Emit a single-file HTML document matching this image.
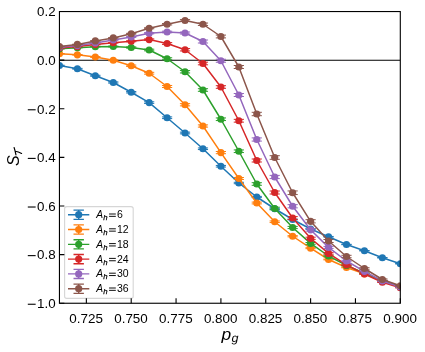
<!DOCTYPE html>
<html><head><meta charset="utf-8"><title>plot</title>
<style>html,body{margin:0;padding:0;background:#fff}svg{display:block;will-change:transform}text{font-family:"Liberation Sans",sans-serif;fill:#000}</style></head>
<body>
<svg width="425" height="352" viewBox="0 0 425 352">
<rect width="425" height="352" fill="#fff"/>
<defs><clipPath id="c"><rect x="59.45" y="11.55" width="340.85" height="291.70"/></clipPath></defs>
<g clip-path="url(#c)">
<line x1="59.45" y1="60.25" x2="400.30" y2="60.25" stroke="#000" stroke-width="1.1"/>
<g stroke="#1f77b4" fill="#1f77b4"><polyline points="59.45,65.50 77.39,68.75 95.33,75.75 113.27,82.50 131.21,92.25 149.15,102.60 167.09,117.75 185.03,133.00 202.97,148.75 220.91,166.25 238.84,183.00 256.78,197.00 274.72,208.75 292.66,219.50 310.60,229.00 328.54,236.75 346.48,244.50 364.42,250.75 382.36,257.75 400.30,263.75" fill="none" stroke-width="1.50" stroke-linejoin="round"/><path d="M59.45 65.20V65.80M54.35 65.20H64.55M54.35 65.80H64.55M77.39 68.35V69.15M72.29 68.35H82.49M72.29 69.15H82.49M95.33 75.25V76.25M90.23 75.25H100.43M90.23 76.25H100.43M113.27 81.90V83.10M108.17 81.90H118.37M108.17 83.10H118.37M131.21 91.55V92.95M126.11 91.55H136.31M126.11 92.95H136.31M149.15 101.80V103.40M144.05 101.80H154.25M144.05 103.40H154.25M167.09 116.90V118.60M161.99 116.90H172.19M161.99 118.60H172.19M185.03 132.15V133.85M179.93 132.15H190.13M179.93 133.85H190.13M202.97 147.95V149.55M197.87 147.95H208.07M197.87 149.55H208.07M220.91 165.45V167.05M215.81 165.45H226.01M215.81 167.05H226.01M238.84 182.30V183.70M233.74 182.30H243.94M233.74 183.70H243.94M256.78 196.40V197.60M251.68 196.40H261.88M251.68 197.60H261.88M274.72 208.25V209.25M269.62 208.25H279.82M269.62 209.25H279.82M292.66 219.10V219.90M287.56 219.10H297.76M287.56 219.90H297.76M310.60 228.70V229.30M305.50 228.70H315.70M305.50 229.30H315.70M328.54 236.45V237.05M323.44 236.45H333.64M323.44 237.05H333.64M346.48 244.30V244.70M341.38 244.30H351.58M341.38 244.70H351.58M364.42 250.55V250.95M359.32 250.55H369.52M359.32 250.95H369.52M382.36 257.55V257.95M377.26 257.55H387.46M377.26 257.95H387.46M400.30 263.55V263.95M395.20 263.55H405.40M395.20 263.95H405.40" fill="none" stroke-width="1.00"/><circle cx="59.45" cy="65.50" r="3.60" stroke="none"/><circle cx="77.39" cy="68.75" r="3.60" stroke="none"/><circle cx="95.33" cy="75.75" r="3.60" stroke="none"/><circle cx="113.27" cy="82.50" r="3.60" stroke="none"/><circle cx="131.21" cy="92.25" r="3.60" stroke="none"/><circle cx="149.15" cy="102.60" r="3.60" stroke="none"/><circle cx="167.09" cy="117.75" r="3.60" stroke="none"/><circle cx="185.03" cy="133.00" r="3.60" stroke="none"/><circle cx="202.97" cy="148.75" r="3.60" stroke="none"/><circle cx="220.91" cy="166.25" r="3.60" stroke="none"/><circle cx="238.84" cy="183.00" r="3.60" stroke="none"/><circle cx="256.78" cy="197.00" r="3.60" stroke="none"/><circle cx="274.72" cy="208.75" r="3.60" stroke="none"/><circle cx="292.66" cy="219.50" r="3.60" stroke="none"/><circle cx="310.60" cy="229.00" r="3.60" stroke="none"/><circle cx="328.54" cy="236.75" r="3.60" stroke="none"/><circle cx="346.48" cy="244.50" r="3.60" stroke="none"/><circle cx="364.42" cy="250.75" r="3.60" stroke="none"/><circle cx="382.36" cy="257.75" r="3.60" stroke="none"/><circle cx="400.30" cy="263.75" r="3.60" stroke="none"/></g>
<g stroke="#ff7f0e" fill="#ff7f0e"><polyline points="59.45,53.70 77.39,54.80 95.33,57.00 113.27,60.25 131.21,65.75 149.15,73.25 167.09,86.50 185.03,104.75 202.97,126.00 220.91,152.60 238.84,178.50 256.78,203.00 274.72,221.75 292.66,236.25 310.60,248.20 328.54,259.50 346.48,267.50 364.42,273.80 382.36,280.80 400.30,286.50" fill="none" stroke-width="1.50" stroke-linejoin="round"/><path d="M59.45 53.50V53.90M54.35 53.50H64.55M54.35 53.90H64.55M77.39 54.50V55.10M72.29 54.50H82.49M72.29 55.10H82.49M95.33 56.60V57.40M90.23 56.60H100.43M90.23 57.40H100.43M113.27 59.75V60.75M108.17 59.75H118.37M108.17 60.75H118.37M131.21 65.05V66.45M126.11 65.05H136.31M126.11 66.45H136.31M149.15 72.35V74.15M144.05 72.35H154.25M144.05 74.15H154.25M167.09 85.50V87.50M161.99 85.50H172.19M161.99 87.50H172.19M185.03 103.65V105.85M179.93 103.65H190.13M179.93 105.85H190.13M202.97 124.90V127.10M197.87 124.90H208.07M197.87 127.10H208.07M220.91 151.50V153.70M215.81 151.50H226.01M215.81 153.70H226.01M238.84 177.50V179.50M233.74 177.50H243.94M233.74 179.50H243.94M256.78 202.10V203.90M251.68 202.10H261.88M251.68 203.90H261.88M274.72 220.95V222.55M269.62 220.95H279.82M269.62 222.55H279.82M292.66 235.65V236.85M287.56 235.65H297.76M287.56 236.85H297.76M310.60 247.70V248.70M305.50 247.70H315.70M305.50 248.70H315.70M328.54 259.10V259.90M323.44 259.10H333.64M323.44 259.90H333.64M346.48 267.20V267.80M341.38 267.20H351.58M341.38 267.80H351.58M364.42 273.60V274.00M359.32 273.60H369.52M359.32 274.00H369.52M382.36 280.60V281.00M377.26 280.60H387.46M377.26 281.00H387.46M400.30 286.30V286.70M395.20 286.30H405.40M395.20 286.70H405.40" fill="none" stroke-width="1.00"/><circle cx="59.45" cy="53.70" r="3.60" stroke="none"/><circle cx="77.39" cy="54.80" r="3.60" stroke="none"/><circle cx="95.33" cy="57.00" r="3.60" stroke="none"/><circle cx="113.27" cy="60.25" r="3.60" stroke="none"/><circle cx="131.21" cy="65.75" r="3.60" stroke="none"/><circle cx="149.15" cy="73.25" r="3.60" stroke="none"/><circle cx="167.09" cy="86.50" r="3.60" stroke="none"/><circle cx="185.03" cy="104.75" r="3.60" stroke="none"/><circle cx="202.97" cy="126.00" r="3.60" stroke="none"/><circle cx="220.91" cy="152.60" r="3.60" stroke="none"/><circle cx="238.84" cy="178.50" r="3.60" stroke="none"/><circle cx="256.78" cy="203.00" r="3.60" stroke="none"/><circle cx="274.72" cy="221.75" r="3.60" stroke="none"/><circle cx="292.66" cy="236.25" r="3.60" stroke="none"/><circle cx="310.60" cy="248.20" r="3.60" stroke="none"/><circle cx="328.54" cy="259.50" r="3.60" stroke="none"/><circle cx="346.48" cy="267.50" r="3.60" stroke="none"/><circle cx="364.42" cy="273.80" r="3.60" stroke="none"/><circle cx="382.36" cy="280.80" r="3.60" stroke="none"/><circle cx="400.30" cy="286.50" r="3.60" stroke="none"/></g>
<g stroke="#2ca02c" fill="#2ca02c"><polyline points="59.45,48.80 77.39,47.70 95.33,46.70 113.27,46.50 131.21,47.50 149.15,50.00 167.09,58.75 185.03,71.75 202.97,90.00 220.91,119.25 238.84,151.25 256.78,184.00 274.72,208.50 292.66,227.50 310.60,243.40 328.54,256.00 346.48,265.40 364.42,273.20 382.36,281.00 400.30,286.75" fill="none" stroke-width="1.50" stroke-linejoin="round"/><path d="M59.45 48.60V49.00M54.35 48.60H64.55M54.35 49.00H64.55M77.39 47.50V47.90M72.29 47.50H82.49M72.29 47.90H82.49M95.33 46.40V47.00M90.23 46.40H100.43M90.23 47.00H100.43M113.27 46.10V46.90M108.17 46.10H118.37M108.17 46.90H118.37M131.21 46.90V48.10M126.11 46.90H136.31M126.11 48.10H136.31M149.15 49.20V50.80M144.05 49.20H154.25M144.05 50.80H154.25M167.09 57.75V59.75M161.99 57.75H172.19M161.99 59.75H172.19M185.03 70.55V72.95M179.93 70.55H190.13M179.93 72.95H190.13M202.97 88.70V91.30M197.87 88.70H208.07M197.87 91.30H208.07M220.91 117.95V120.55M215.81 117.95H226.01M215.81 120.55H226.01M238.84 149.95V152.55M233.74 149.95H243.94M233.74 152.55H243.94M256.78 182.70V185.30M251.68 182.70H261.88M251.68 185.30H261.88M274.72 207.20V209.80M269.62 207.20H279.82M269.62 209.80H279.82M292.66 226.40V228.60M287.56 226.40H297.76M287.56 228.60H297.76M310.60 242.50V244.30M305.50 242.50H315.70M305.50 244.30H315.70M328.54 255.30V256.70M323.44 255.30H333.64M323.44 256.70H333.64M346.48 264.90V265.90M341.38 264.90H351.58M341.38 265.90H351.58M364.42 272.80V273.60M359.32 272.80H369.52M359.32 273.60H369.52M382.36 280.70V281.30M377.26 280.70H387.46M377.26 281.30H387.46M400.30 286.55V286.95M395.20 286.55H405.40M395.20 286.95H405.40" fill="none" stroke-width="1.00"/><circle cx="59.45" cy="48.80" r="3.60" stroke="none"/><circle cx="77.39" cy="47.70" r="3.60" stroke="none"/><circle cx="95.33" cy="46.70" r="3.60" stroke="none"/><circle cx="113.27" cy="46.50" r="3.60" stroke="none"/><circle cx="131.21" cy="47.50" r="3.60" stroke="none"/><circle cx="149.15" cy="50.00" r="3.60" stroke="none"/><circle cx="167.09" cy="58.75" r="3.60" stroke="none"/><circle cx="185.03" cy="71.75" r="3.60" stroke="none"/><circle cx="202.97" cy="90.00" r="3.60" stroke="none"/><circle cx="220.91" cy="119.25" r="3.60" stroke="none"/><circle cx="238.84" cy="151.25" r="3.60" stroke="none"/><circle cx="256.78" cy="184.00" r="3.60" stroke="none"/><circle cx="274.72" cy="208.50" r="3.60" stroke="none"/><circle cx="292.66" cy="227.50" r="3.60" stroke="none"/><circle cx="310.60" cy="243.40" r="3.60" stroke="none"/><circle cx="328.54" cy="256.00" r="3.60" stroke="none"/><circle cx="346.48" cy="265.40" r="3.60" stroke="none"/><circle cx="364.42" cy="273.20" r="3.60" stroke="none"/><circle cx="382.36" cy="281.00" r="3.60" stroke="none"/><circle cx="400.30" cy="286.75" r="3.60" stroke="none"/></g>
<g stroke="#d62728" fill="#d62728"><polyline points="59.45,48.00 77.39,46.60 95.33,44.50 113.27,42.75 131.21,41.25 149.15,39.60 167.09,43.50 185.03,49.75 202.97,63.50 220.91,87.00 238.84,120.75 256.78,160.50 274.72,192.50 292.66,218.00 310.60,238.30 328.54,253.40 346.48,264.80 364.42,274.00 382.36,282.20 400.30,287.70" fill="none" stroke-width="1.50" stroke-linejoin="round"/><path d="M59.45 47.80V48.20M54.35 47.80H64.55M54.35 48.20H64.55M77.39 46.40V46.80M72.29 46.40H82.49M72.29 46.80H82.49M95.33 44.20V44.80M90.23 44.20H100.43M90.23 44.80H100.43M113.27 42.45V43.05M108.17 42.45H118.37M108.17 43.05H118.37M131.21 40.75V41.75M126.11 40.75H136.31M126.11 41.75H136.31M149.15 38.90V40.30M144.05 38.90H154.25M144.05 40.30H154.25M167.09 42.60V44.40M161.99 42.60H172.19M161.99 44.40H172.19M185.03 48.55V50.95M179.93 48.55H190.13M179.93 50.95H190.13M202.97 62.20V64.80M197.87 62.20H208.07M197.87 64.80H208.07M220.91 85.70V88.30M215.81 85.70H226.01M215.81 88.30H226.01M238.84 119.35V122.15M233.74 119.35H243.94M233.74 122.15H243.94M256.78 159.00V162.00M251.68 159.00H261.88M251.68 162.00H261.88M274.72 191.00V194.00M269.62 191.00H279.82M269.62 194.00H279.82M292.66 216.60V219.40M287.56 216.60H297.76M287.56 219.40H297.76M310.60 237.20V239.40M305.50 237.20H315.70M305.50 239.40H315.70M328.54 252.60V254.20M323.44 252.60H333.64M323.44 254.20H333.64M346.48 264.20V265.40M341.38 264.20H351.58M341.38 265.40H351.58M364.42 273.60V274.40M359.32 273.60H369.52M359.32 274.40H369.52M382.36 281.90V282.50M377.26 281.90H387.46M377.26 282.50H387.46M400.30 287.50V287.90M395.20 287.50H405.40M395.20 287.90H405.40" fill="none" stroke-width="1.00"/><circle cx="59.45" cy="48.00" r="3.60" stroke="none"/><circle cx="77.39" cy="46.60" r="3.60" stroke="none"/><circle cx="95.33" cy="44.50" r="3.60" stroke="none"/><circle cx="113.27" cy="42.75" r="3.60" stroke="none"/><circle cx="131.21" cy="41.25" r="3.60" stroke="none"/><circle cx="149.15" cy="39.60" r="3.60" stroke="none"/><circle cx="167.09" cy="43.50" r="3.60" stroke="none"/><circle cx="185.03" cy="49.75" r="3.60" stroke="none"/><circle cx="202.97" cy="63.50" r="3.60" stroke="none"/><circle cx="220.91" cy="87.00" r="3.60" stroke="none"/><circle cx="238.84" cy="120.75" r="3.60" stroke="none"/><circle cx="256.78" cy="160.50" r="3.60" stroke="none"/><circle cx="274.72" cy="192.50" r="3.60" stroke="none"/><circle cx="292.66" cy="218.00" r="3.60" stroke="none"/><circle cx="310.60" cy="238.30" r="3.60" stroke="none"/><circle cx="328.54" cy="253.40" r="3.60" stroke="none"/><circle cx="346.48" cy="264.80" r="3.60" stroke="none"/><circle cx="364.42" cy="274.00" r="3.60" stroke="none"/><circle cx="382.36" cy="282.20" r="3.60" stroke="none"/><circle cx="400.30" cy="287.70" r="3.60" stroke="none"/></g>
<g stroke="#9467bd" fill="#9467bd"><polyline points="59.45,47.20 77.39,45.60 95.33,42.90 113.27,40.00 131.21,37.00 149.15,33.25 167.09,32.00 185.03,33.00 202.97,41.50 220.91,60.75 238.84,95.00 256.78,139.50 274.72,177.00 292.66,206.25 310.60,229.80 328.54,247.40 346.48,261.00 364.42,271.30 382.36,281.00 400.30,287.00" fill="none" stroke-width="1.50" stroke-linejoin="round"/><path d="M59.45 47.00V47.40M54.35 47.00H64.55M54.35 47.40H64.55M77.39 45.40V45.80M72.29 45.40H82.49M72.29 45.80H82.49M95.33 42.60V43.20M90.23 42.60H100.43M90.23 43.20H100.43M113.27 39.70V40.30M108.17 39.70H118.37M108.17 40.30H118.37M131.21 36.60V37.40M126.11 36.60H136.31M126.11 37.40H136.31M149.15 32.65V33.85M144.05 32.65H154.25M144.05 33.85H154.25M167.09 31.20V32.80M161.99 31.20H172.19M161.99 32.80H172.19M185.03 32.00V34.00M179.93 32.00H190.13M179.93 34.00H190.13M202.97 40.00V43.00M197.87 40.00H208.07M197.87 43.00H208.07M220.91 59.25V62.25M215.81 59.25H226.01M215.81 62.25H226.01M238.84 93.50V96.50M233.74 93.50H243.94M233.74 96.50H243.94M256.78 137.90V141.10M251.68 137.90H261.88M251.68 141.10H261.88M274.72 175.40V178.60M269.62 175.40H279.82M269.62 178.60H279.82M292.66 204.65V207.85M287.56 204.65H297.76M287.56 207.85H297.76M310.60 228.50V231.10M305.50 228.50H315.70M305.50 231.10H315.70M328.54 246.40V248.40M323.44 246.40H333.64M323.44 248.40H333.64M346.48 260.30V261.70M341.38 260.30H351.58M341.38 261.70H351.58M364.42 270.80V271.80M359.32 270.80H369.52M359.32 271.80H369.52M382.36 280.60V281.40M377.26 280.60H387.46M377.26 281.40H387.46M400.30 286.70V287.30M395.20 286.70H405.40M395.20 287.30H405.40" fill="none" stroke-width="1.00"/><circle cx="59.45" cy="47.20" r="3.60" stroke="none"/><circle cx="77.39" cy="45.60" r="3.60" stroke="none"/><circle cx="95.33" cy="42.90" r="3.60" stroke="none"/><circle cx="113.27" cy="40.00" r="3.60" stroke="none"/><circle cx="131.21" cy="37.00" r="3.60" stroke="none"/><circle cx="149.15" cy="33.25" r="3.60" stroke="none"/><circle cx="167.09" cy="32.00" r="3.60" stroke="none"/><circle cx="185.03" cy="33.00" r="3.60" stroke="none"/><circle cx="202.97" cy="41.50" r="3.60" stroke="none"/><circle cx="220.91" cy="60.75" r="3.60" stroke="none"/><circle cx="238.84" cy="95.00" r="3.60" stroke="none"/><circle cx="256.78" cy="139.50" r="3.60" stroke="none"/><circle cx="274.72" cy="177.00" r="3.60" stroke="none"/><circle cx="292.66" cy="206.25" r="3.60" stroke="none"/><circle cx="310.60" cy="229.80" r="3.60" stroke="none"/><circle cx="328.54" cy="247.40" r="3.60" stroke="none"/><circle cx="346.48" cy="261.00" r="3.60" stroke="none"/><circle cx="364.42" cy="271.30" r="3.60" stroke="none"/><circle cx="382.36" cy="281.00" r="3.60" stroke="none"/><circle cx="400.30" cy="287.00" r="3.60" stroke="none"/></g>
<g stroke="#8c564b" fill="#8c564b"><polyline points="59.45,46.50 77.39,44.40 95.33,40.90 113.27,37.90 131.21,33.75 149.15,28.25 167.09,24.25 185.03,20.50 202.97,24.25 220.91,36.50 238.84,67.00 256.78,114.00 274.72,157.50 292.66,192.75 310.60,221.30 328.54,241.00 346.48,256.50 364.42,268.50 382.36,279.50 400.30,285.75" fill="none" stroke-width="1.50" stroke-linejoin="round"/><path d="M59.45 46.30V46.70M54.35 46.30H64.55M54.35 46.70H64.55M77.39 44.20V44.60M72.29 44.20H82.49M72.29 44.60H82.49M95.33 40.60V41.20M90.23 40.60H100.43M90.23 41.20H100.43M113.27 37.60V38.20M108.17 37.60H118.37M108.17 38.20H118.37M131.21 33.35V34.15M126.11 33.35H136.31M126.11 34.15H136.31M149.15 27.75V28.75M144.05 27.75H154.25M144.05 28.75H154.25M167.09 23.55V24.95M161.99 23.55H172.19M161.99 24.95H172.19M185.03 19.60V21.40M179.93 19.60H190.13M179.93 21.40H190.13M202.97 23.05V25.45M197.87 23.05H208.07M197.87 25.45H208.07M220.91 35.10V37.90M215.81 35.10H226.01M215.81 37.90H226.01M238.84 65.50V68.50M233.74 65.50H243.94M233.74 68.50H243.94M256.78 112.30V115.70M251.68 112.30H261.88M251.68 115.70H261.88M274.72 155.70V159.30M269.62 155.70H279.82M269.62 159.30H279.82M292.66 190.95V194.55M287.56 190.95H297.76M287.56 194.55H297.76M310.60 219.70V222.90M305.50 219.70H315.70M305.50 222.90H315.70M328.54 239.50V242.50M323.44 239.50H333.64M323.44 242.50H333.64M346.48 255.30V257.70M341.38 255.30H351.58M341.38 257.70H351.58M364.42 267.70V269.30M359.32 267.70H369.52M359.32 269.30H369.52M382.36 278.90V280.10M377.26 278.90H387.46M377.26 280.10H387.46M400.30 285.35V286.15M395.20 285.35H405.40M395.20 286.15H405.40" fill="none" stroke-width="1.00"/><circle cx="59.45" cy="46.50" r="3.60" stroke="none"/><circle cx="77.39" cy="44.40" r="3.60" stroke="none"/><circle cx="95.33" cy="40.90" r="3.60" stroke="none"/><circle cx="113.27" cy="37.90" r="3.60" stroke="none"/><circle cx="131.21" cy="33.75" r="3.60" stroke="none"/><circle cx="149.15" cy="28.25" r="3.60" stroke="none"/><circle cx="167.09" cy="24.25" r="3.60" stroke="none"/><circle cx="185.03" cy="20.50" r="3.60" stroke="none"/><circle cx="202.97" cy="24.25" r="3.60" stroke="none"/><circle cx="220.91" cy="36.50" r="3.60" stroke="none"/><circle cx="238.84" cy="67.00" r="3.60" stroke="none"/><circle cx="256.78" cy="114.00" r="3.60" stroke="none"/><circle cx="274.72" cy="157.50" r="3.60" stroke="none"/><circle cx="292.66" cy="192.75" r="3.60" stroke="none"/><circle cx="310.60" cy="221.30" r="3.60" stroke="none"/><circle cx="328.54" cy="241.00" r="3.60" stroke="none"/><circle cx="346.48" cy="256.50" r="3.60" stroke="none"/><circle cx="364.42" cy="268.50" r="3.60" stroke="none"/><circle cx="382.36" cy="279.50" r="3.60" stroke="none"/><circle cx="400.30" cy="285.75" r="3.60" stroke="none"/></g>
</g>
<rect x="64.6" y="206.6" width="68.6" height="91.8" rx="2.2" ry="2.2" fill="#fff" fill-opacity="0.8" stroke="#cccccc" stroke-opacity="0.8" stroke-width="1.1"/>
<g stroke="#1f77b4" fill="#1f77b4"><path d="M68.0 214.70H89.3M78.7 210.10V219.30M73.5 210.10H83.9M73.5 219.30H83.9" fill="none" stroke-width="1.35"/><circle cx="78.7" cy="214.70" r="3.60" stroke="none"/></g>
<text x="96.3" y="218.00" font-size="10.2" font-style="italic" textLength="6.8" lengthAdjust="spacingAndGlyphs">A</text>
<text x="103.3" y="220.10" font-size="7.9" font-style="italic" stroke="#000" stroke-width="0.25" textLength="4.3" lengthAdjust="spacingAndGlyphs">h</text>
<path d="M109.05 214.00H115.8M109.05 216.35H115.8" stroke="#000" stroke-width="0.95" fill="none"/>
<text x="117.0" y="218.00" font-size="10.2" textLength="5.85" lengthAdjust="spacingAndGlyphs">6</text>
<g stroke="#ff7f0e" fill="#ff7f0e"><path d="M68.0 229.50H89.3M78.7 224.90V234.10M73.5 224.90H83.9M73.5 234.10H83.9" fill="none" stroke-width="1.35"/><circle cx="78.7" cy="229.50" r="3.60" stroke="none"/></g>
<text x="96.3" y="233.00" font-size="10.2" font-style="italic" textLength="6.8" lengthAdjust="spacingAndGlyphs">A</text>
<text x="103.3" y="235.10" font-size="7.9" font-style="italic" stroke="#000" stroke-width="0.25" textLength="4.3" lengthAdjust="spacingAndGlyphs">h</text>
<path d="M109.05 228.80H115.8M109.05 231.15H115.8" stroke="#000" stroke-width="0.95" fill="none"/>
<text x="117.0" y="233.00" font-size="10.2" textLength="11.70" lengthAdjust="spacingAndGlyphs">12</text>
<g stroke="#2ca02c" fill="#2ca02c"><path d="M68.0 244.30H89.3M78.7 239.70V248.90M73.5 239.70H83.9M73.5 248.90H83.9" fill="none" stroke-width="1.35"/><circle cx="78.7" cy="244.30" r="3.60" stroke="none"/></g>
<text x="96.3" y="248.00" font-size="10.2" font-style="italic" textLength="6.8" lengthAdjust="spacingAndGlyphs">A</text>
<text x="103.3" y="250.10" font-size="7.9" font-style="italic" stroke="#000" stroke-width="0.25" textLength="4.3" lengthAdjust="spacingAndGlyphs">h</text>
<path d="M109.05 243.60H115.8M109.05 245.95H115.8" stroke="#000" stroke-width="0.95" fill="none"/>
<text x="117.0" y="248.00" font-size="10.2" textLength="11.70" lengthAdjust="spacingAndGlyphs">18</text>
<g stroke="#d62728" fill="#d62728"><path d="M68.0 259.10H89.3M78.7 254.50V263.70M73.5 254.50H83.9M73.5 263.70H83.9" fill="none" stroke-width="1.35"/><circle cx="78.7" cy="259.10" r="3.60" stroke="none"/></g>
<text x="96.3" y="263.00" font-size="10.2" font-style="italic" textLength="6.8" lengthAdjust="spacingAndGlyphs">A</text>
<text x="103.3" y="265.10" font-size="7.9" font-style="italic" stroke="#000" stroke-width="0.25" textLength="4.3" lengthAdjust="spacingAndGlyphs">h</text>
<path d="M109.05 258.40H115.8M109.05 260.75H115.8" stroke="#000" stroke-width="0.95" fill="none"/>
<text x="117.0" y="263.00" font-size="10.2" textLength="11.70" lengthAdjust="spacingAndGlyphs">24</text>
<g stroke="#9467bd" fill="#9467bd"><path d="M68.0 273.90H89.3M78.7 269.30V278.50M73.5 269.30H83.9M73.5 278.50H83.9" fill="none" stroke-width="1.35"/><circle cx="78.7" cy="273.90" r="3.60" stroke="none"/></g>
<text x="96.3" y="277.00" font-size="10.2" font-style="italic" textLength="6.8" lengthAdjust="spacingAndGlyphs">A</text>
<text x="103.3" y="279.10" font-size="7.9" font-style="italic" stroke="#000" stroke-width="0.25" textLength="4.3" lengthAdjust="spacingAndGlyphs">h</text>
<path d="M109.05 273.20H115.8M109.05 275.55H115.8" stroke="#000" stroke-width="0.95" fill="none"/>
<text x="117.0" y="277.00" font-size="10.2" textLength="11.70" lengthAdjust="spacingAndGlyphs">30</text>
<g stroke="#8c564b" fill="#8c564b"><path d="M68.0 288.70H89.3M78.7 284.10V293.30M73.5 284.10H83.9M73.5 293.30H83.9" fill="none" stroke-width="1.35"/><circle cx="78.7" cy="288.70" r="3.60" stroke="none"/></g>
<text x="96.3" y="292.00" font-size="10.2" font-style="italic" textLength="6.8" lengthAdjust="spacingAndGlyphs">A</text>
<text x="103.3" y="294.10" font-size="7.9" font-style="italic" stroke="#000" stroke-width="0.25" textLength="4.3" lengthAdjust="spacingAndGlyphs">h</text>
<path d="M109.05 288.00H115.8M109.05 290.35H115.8" stroke="#000" stroke-width="0.95" fill="none"/>
<text x="117.0" y="292.00" font-size="10.2" textLength="11.70" lengthAdjust="spacingAndGlyphs">36</text>
<rect x="59.45" y="11.55" width="340.85" height="291.70" fill="none" stroke="#000" stroke-width="1.11"/>
<path d="M86.36 303.25V298.35M131.21 303.25V298.35M176.06 303.25V298.35M220.91 303.25V298.35M265.75 303.25V298.35M310.60 303.25V298.35M355.45 303.25V298.35M400.30 303.25V298.35M59.45 11.55H64.35M59.45 60.17H64.35M59.45 108.78H64.35M59.45 157.40H64.35M59.45 206.02H64.35M59.45 254.63H64.35M59.45 303.25H64.35" stroke="#000" stroke-width="1.11" fill="none"/>
<text x="86.16" y="322.7" font-size="13.1" text-anchor="middle" textLength="33.6" lengthAdjust="spacingAndGlyphs">0.725</text>
<text x="131.01" y="322.7" font-size="13.1" text-anchor="middle" textLength="33.6" lengthAdjust="spacingAndGlyphs">0.750</text>
<text x="175.86" y="322.7" font-size="13.1" text-anchor="middle" textLength="33.6" lengthAdjust="spacingAndGlyphs">0.775</text>
<text x="220.71" y="322.7" font-size="13.1" text-anchor="middle" textLength="33.6" lengthAdjust="spacingAndGlyphs">0.800</text>
<text x="265.55" y="322.7" font-size="13.1" text-anchor="middle" textLength="33.6" lengthAdjust="spacingAndGlyphs">0.825</text>
<text x="310.40" y="322.7" font-size="13.1" text-anchor="middle" textLength="33.6" lengthAdjust="spacingAndGlyphs">0.850</text>
<text x="355.25" y="322.7" font-size="13.1" text-anchor="middle" textLength="33.6" lengthAdjust="spacingAndGlyphs">0.875</text>
<text x="400.10" y="322.7" font-size="13.1" text-anchor="middle" textLength="33.6" lengthAdjust="spacingAndGlyphs">0.900</text>
<text x="55.6" y="16.35" font-size="13.1" text-anchor="end" textLength="18.6" lengthAdjust="spacingAndGlyphs">0.2</text>
<text x="55.6" y="64.97" font-size="13.1" text-anchor="end" textLength="18.6" lengthAdjust="spacingAndGlyphs">0.0</text>
<text x="55.6" y="113.58" font-size="13.1" text-anchor="end" textLength="18.6" lengthAdjust="spacingAndGlyphs">0.2</text>
<path d="M27.8 109.78H35.65" stroke="#000" stroke-width="1.1" fill="none"/>
<text x="55.6" y="162.20" font-size="13.1" text-anchor="end" textLength="18.6" lengthAdjust="spacingAndGlyphs">0.4</text>
<path d="M27.8 158.40H35.65" stroke="#000" stroke-width="1.1" fill="none"/>
<text x="55.6" y="210.82" font-size="13.1" text-anchor="end" textLength="18.6" lengthAdjust="spacingAndGlyphs">0.6</text>
<path d="M27.8 207.02H35.65" stroke="#000" stroke-width="1.1" fill="none"/>
<text x="55.6" y="259.43" font-size="13.1" text-anchor="end" textLength="18.6" lengthAdjust="spacingAndGlyphs">0.8</text>
<path d="M27.8 255.63H35.65" stroke="#000" stroke-width="1.1" fill="none"/>
<text x="55.6" y="308.05" font-size="13.1" text-anchor="end" textLength="18.6" lengthAdjust="spacingAndGlyphs">1.0</text>
<path d="M27.8 304.25H35.65" stroke="#000" stroke-width="1.1" fill="none"/>
<text x="221.6" y="340" font-size="17.4" font-style="italic">p</text>
<text x="231.5" y="342" font-size="11.9" text-rendering="geometricPrecision" font-style="italic" textLength="7.0" lengthAdjust="spacingAndGlyphs">g</text>
<g transform="translate(19.2,166.1) rotate(-90)"><text x="0" y="0" font-size="16.7" font-style="italic" textLength="10.6" lengthAdjust="spacingAndGlyphs">S</text></g>
<path d="M14.1 147.5C14.8 149.6 15.5 152.6 15.95 154.9M15.2 151.3C17.5 151.6 19.6 152.4 21.6 153.5" stroke="#000" stroke-width="1.15" fill="none" stroke-linecap="round"/>
</svg></body></html>
